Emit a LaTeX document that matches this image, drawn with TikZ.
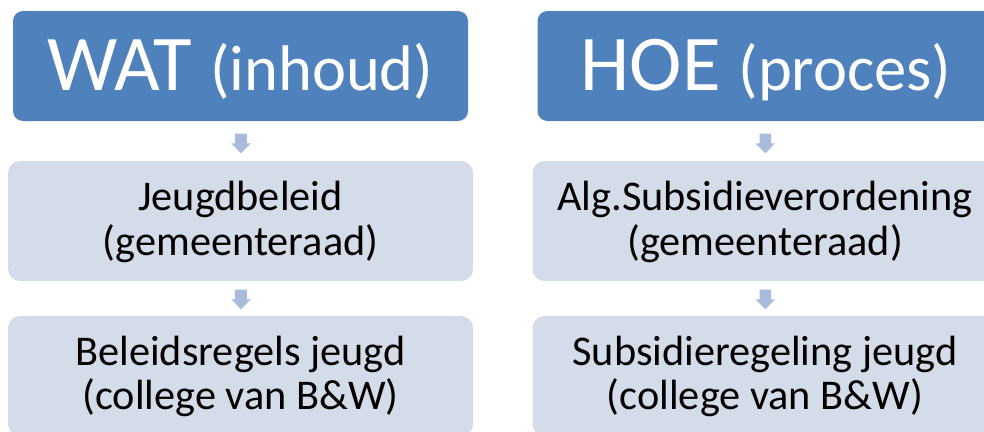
\documentclass[tikz,border=0pt]{standalone}
\usepackage{fontspec}
\setmainfont{Carlito}
\usetikzlibrary{calc}
\definecolor{hblue}{HTML}{4F81BD}
\definecolor{lblue}{HTML}{D4DCE9}
\definecolor{arrc}{HTML}{A8BBDA}
\begin{document}
\begin{tikzpicture}[x=1pt,y=-1pt]
\useasboundingbox (0,0) rectangle (984,431);
\clip (0,0) rectangle (984,431);
\tikzset{
  headbox/.style={fill=hblue, draw=none, rounded corners=10pt, minimum width=455pt, minimum height=110pt, inner sep=0pt},
  subbox/.style={fill=lblue, draw=none, rounded corners=12pt, minimum width=465pt, minimum height=120pt, inner sep=0pt},
  headtxt/.style={anchor=base, text=white, inner sep=0pt},
  subtxt/.style={anchor=base, text=black, inner sep=0pt, font=\fontsize{42.3}{46}\selectfont},
  darr/.pic={\fill[arrc] (-5.8,-9.7) -- (5.8,-9.7) -- (5.8,0) -- (9.8,0) -- (0,10) -- (-9.8,0) -- (-5.8,0) -- cycle;}
}
% left column
\node[headbox] (wat) at (240.5,66) {};
\node[subbox] (jb) at (240.5,221) {};
\node[subbox] (br) at (240.5,376) {};
% right column
\node[headbox] (hoe) at (765,66) {};
\node[subbox] (asv) at (765,221) {};
\node[subbox] (sr) at (765,376) {};
% texts
\node[headtxt] (watT) at (240.5,90) {\fontsize{79}{79}\selectfont WAT \fontsize{64.5}{64.5}\selectfont(inhoud)};
\node[headtxt] (hoeT) at (766,90) {\fontsize{79}{79}\selectfont HOE \fontsize{64.5}{64.5}\selectfont(proces)};
\node[subtxt] (jb1) at (240.5,210) {Jeugdbeleid};
\node[subtxt] (jb2) at (240.5,255.5) {(gemeenteraad)};
\node[subtxt] (br1) at (240.5,365) {Beleidsregels jeugd};
\node[subtxt] (br2) at (240.5,409) {(college van B\&W)};
\node[subtxt] (asv1) at (765,210) {Alg.Subsidieverordening};
\node[subtxt] (asv2) at (765,255.5) {(gemeenteraad)};
\node[subtxt] (sr1) at (765,365) {Subsidieregeling jeugd};
\node[subtxt] (sr2) at (765,409) {(college van B\&W)};
% arrows
\pic at ($(wat.south)!0.5!(jb.north)+(0.5,2.3)$) {darr};
\pic at ($(jb.south)!0.5!(br.north)+(0.5,0.8)$) {darr};
\pic at ($(hoe.south)!0.5!(asv.north)+(0.3,2.3)$) {darr};
\pic at ($(asv.south)!0.5!(sr.north)+(0.3,0.8)$) {darr};
\end{tikzpicture}
\end{document}
